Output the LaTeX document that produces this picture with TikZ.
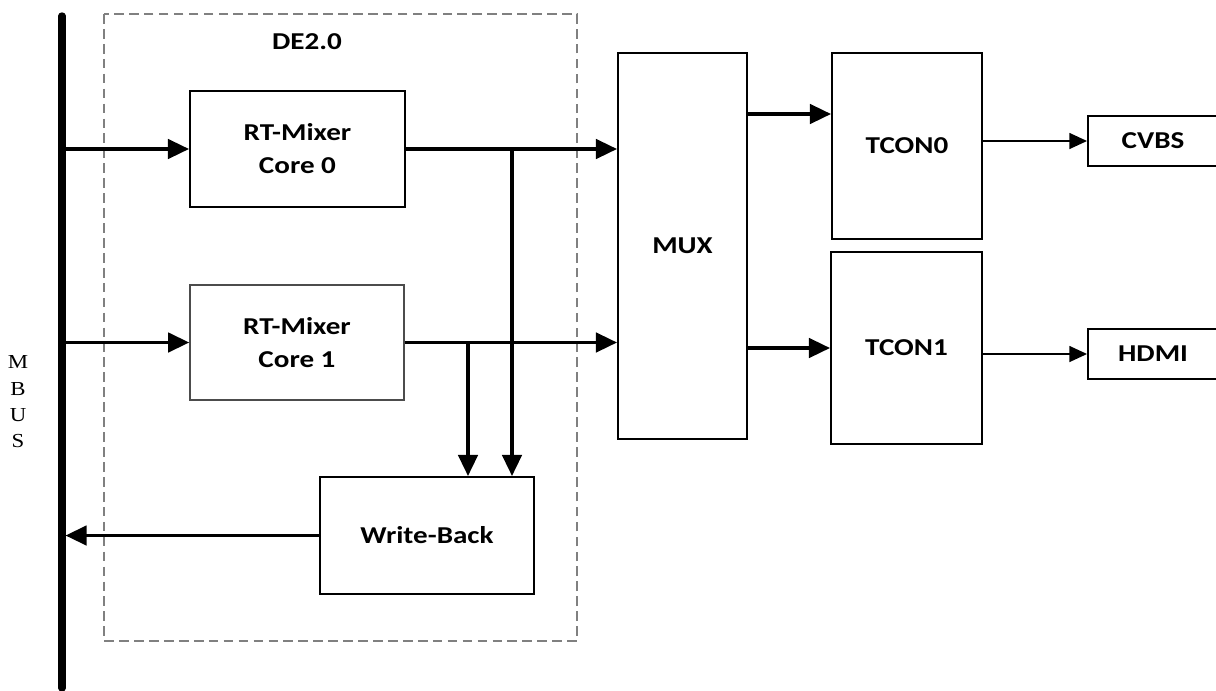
\documentclass[tikz,border=0pt]{standalone}
\usepackage{fontspec}
\setmainfont{Carlito}[FakeStretch=1.2]
\newfontfamily\busfont{Liberation Serif}[FakeStretch=1.15]
\usetikzlibrary{arrows.meta,positioning}

\tikzset{
  blk/.style={draw,line width=1.1pt,align=center,inner sep=0pt,
    font=\fontsize{13.8}{18.7}\selectfont\bfseries},
  bigarr/.style={line width=2pt,-{Triangle[length=12pt,width=11pt]}},
  thinarr/.style={line width=0.9pt,-{Triangle[length=10pt,width=9pt]}},
}

\begin{document}
\begin{tikzpicture}[x=0.02cm,y=-0.02cm]
  \useasboundingbox (0,0) rectangle (1216,690);

  % DE2.0 frame
  \draw[gray,line width=0.7pt,dash pattern=on 5.5pt off 3pt] (104,14) rectangle (577,641);
  \node[font=\fontsize{13.8}{16}\selectfont\bfseries] (de) at (307,42) {DE2.0};

  % The bus
  \coordinate (busT) at (62,16);
  \coordinate (busB) at (62,688);
  \coordinate (busR) at (65.5,0);
  \draw[line width=4.2pt,line cap=round] (busT) -- (busB);
  \node[font=\busfont\fontsize{11.3}{15}\selectfont,align=center,inner sep=0pt] (mbus) at (18,402) {M\\B\\U\\S};

  % Blocks
  \node[blk,minimum width=4.3cm,minimum height=2.32cm] (core0) at (297.5,149) {RT-Mixer\\Core 0};
  \node[blk,draw=black!70,line width=0.9pt,minimum width=4.28cm,minimum height=2.3cm] (core1) at (297,342.5) {RT-Mixer\\Core 1};
  \node[blk,minimum width=4.28cm,minimum height=2.34cm] (wb) at (427,535.5) {Write-Back};
  \node[blk,minimum width=2.58cm,minimum height=7.72cm] (mux) at (682.5,246) {MUX};
  \node[blk,minimum width=3cm,minimum height=3.72cm] (tcon0) at (907,146) {TCON0};
  \node[blk,minimum width=3.02cm,minimum height=3.84cm] (tcon1) at (906.5,348) {TCON1};
  \node[blk,minimum width=2.6cm,minimum height=1cm] (cvbs) at (1153,141) {CVBS};
  \node[blk,minimum width=2.6cm,minimum height=1cm] (hdmi) at (1153,354) {HDMI};

  % Bus to mixers
  \draw[bigarr] (busT |- core0.west) -- (core0.west);
  \draw[bigarr] (busT |- core1.west) -- (core1.west);

  % Mixers to MUX, with taps to write-back
  \coordinate (tap0) at (512,0);
  \coordinate (tap1) at (468,0);
  \draw[bigarr] (core0.east) -- (core0.east -| mux.west);
  \draw[bigarr] (core1.east) -- (core1.east -| mux.west);
  \draw[bigarr] (tap0 |- core0.east) -- (tap0 |- wb.north);
  \draw[bigarr] (tap1 |- core1.east) -- (tap1 |- wb.north);
  \draw[bigarr] (wb.west) -- (busR |- wb.west);

  % MUX to TCONs and outputs
  \coordinate (lvl0) at (0,114);
  \draw[bigarr] (mux.east |- lvl0) -- (tcon0.west |- lvl0);
  \draw[bigarr] (mux.east |- tcon1.west) -- (tcon1.west);
  \draw[thinarr] (tcon0.east |- cvbs.west) -- (cvbs.west);
  \draw[thinarr] (tcon1.east |- hdmi.west) -- (hdmi.west);
\end{tikzpicture}
\end{document}
